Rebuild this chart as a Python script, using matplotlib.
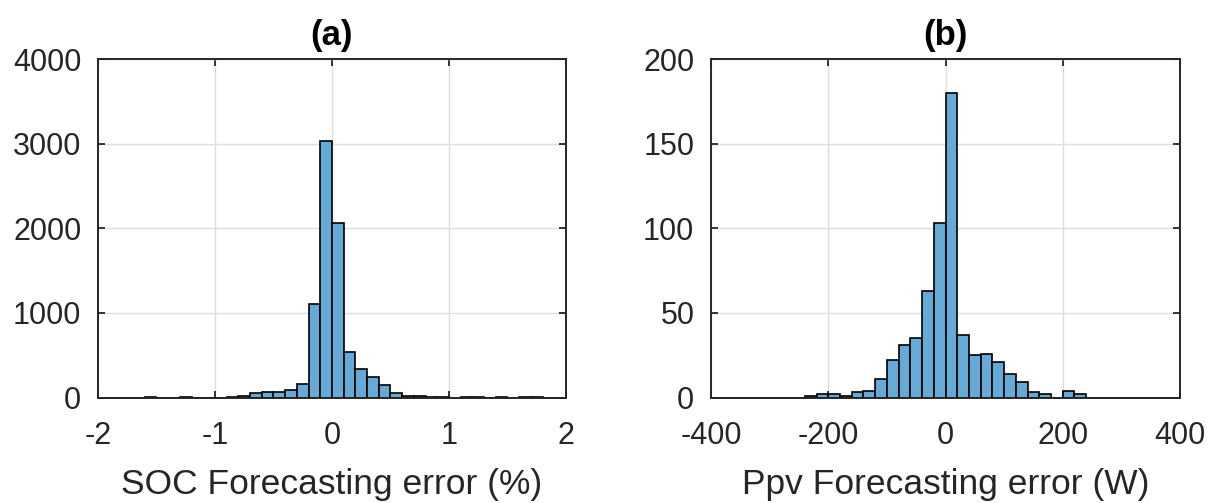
import matplotlib.pyplot as plt
import numpy as np

plt.rcParams['font.family'] = 'Liberation Sans'
plt.rcParams['font.size'] = 22
plt.rcParams['axes.unicode_minus'] = False

# (a) SOC forecasting error, bins of 0.1 %
soc_edges = np.round(np.arange(-2.0, 2.0001, 0.1), 2)
soc_counts = [0, 0, 0, 0, 2, 0, 0, 2, 0, 0,
              0, 10, 20, 55, 62, 68, 90, 160, 1100, 3030,
              2060, 543, 340, 237, 145, 48, 22, 15, 12, 4,
              0, 3, 3, 0, 2, 0, 2, 2, 0, 0]

# (b) Ppv forecasting error, bins of 20 W
ppv_edges = np.arange(-400, 401, 20)
ppv_counts = [0, 0, 0, 0, 0, 0, 0, 0, 1, 2,
              2, 1, 3, 4, 11, 22, 31, 35, 63, 103,
              180, 37, 25, 26, 21, 14, 9, 3, 2, 0,
              4, 2, 0, 0, 0, 0, 0, 0, 0, 0]

face = (0.4, 0.668, 0.845)
dark = '#262626'

fig = plt.figure(figsize=(12.14, 5.03), dpi=100)
ax1 = fig.add_axes([0.0807, 0.2097, 0.3855, 0.673])
ax2 = fig.add_axes([0.5857, 0.2097, 0.3863, 0.673])

panels = [
    (ax1, soc_edges, soc_counts, (-2, 2), [-2, -1, 0, 1, 2], (0, 4000),
     [0, 1000, 2000, 3000, 4000], 'SOC Forecasting error (%)', '(a)'),
    (ax2, ppv_edges, ppv_counts, (-400, 400), [-400, -200, 0, 200, 400], (0, 200),
     [0, 50, 100, 150, 200], 'Ppv Forecasting error (W)', '(b)'),
]

for ax, edges, counts, xl, xt, yl, yt, xlab, title in panels:
    centers = (edges[:-1] + edges[1:]) / 2
    ax.hist(centers, bins=edges, weights=counts, color=face,
            edgecolor='black', linewidth=1.2, zorder=3)
    ax.set_xlim(*xl)
    ax.set_ylim(*yl)
    ax.set_xticks(xt)
    ax.set_yticks(yt)
    ax.grid(True, color='#dedede', linewidth=1.0, zorder=0)
    ax.set_axisbelow(False)
    ax.tick_params(direction='in', length=5, width=1.3, colors=dark,
                   top=True, right=True, labelsize=22)
    ax.tick_params(axis='x', pad=17)
    ax.tick_params(axis='y', pad=12)
    for s in ax.spines.values():
        s.set_color(dark)
        s.set_linewidth(1.4)
        s.set_zorder(5)
    ax.set_xlabel(xlab, fontsize=25.5, color=dark, labelpad=12)
    ax.set_title(title, fontsize=25, fontweight='bold', color='black', pad=10)

plt.savefig('out.png', dpi=100)
